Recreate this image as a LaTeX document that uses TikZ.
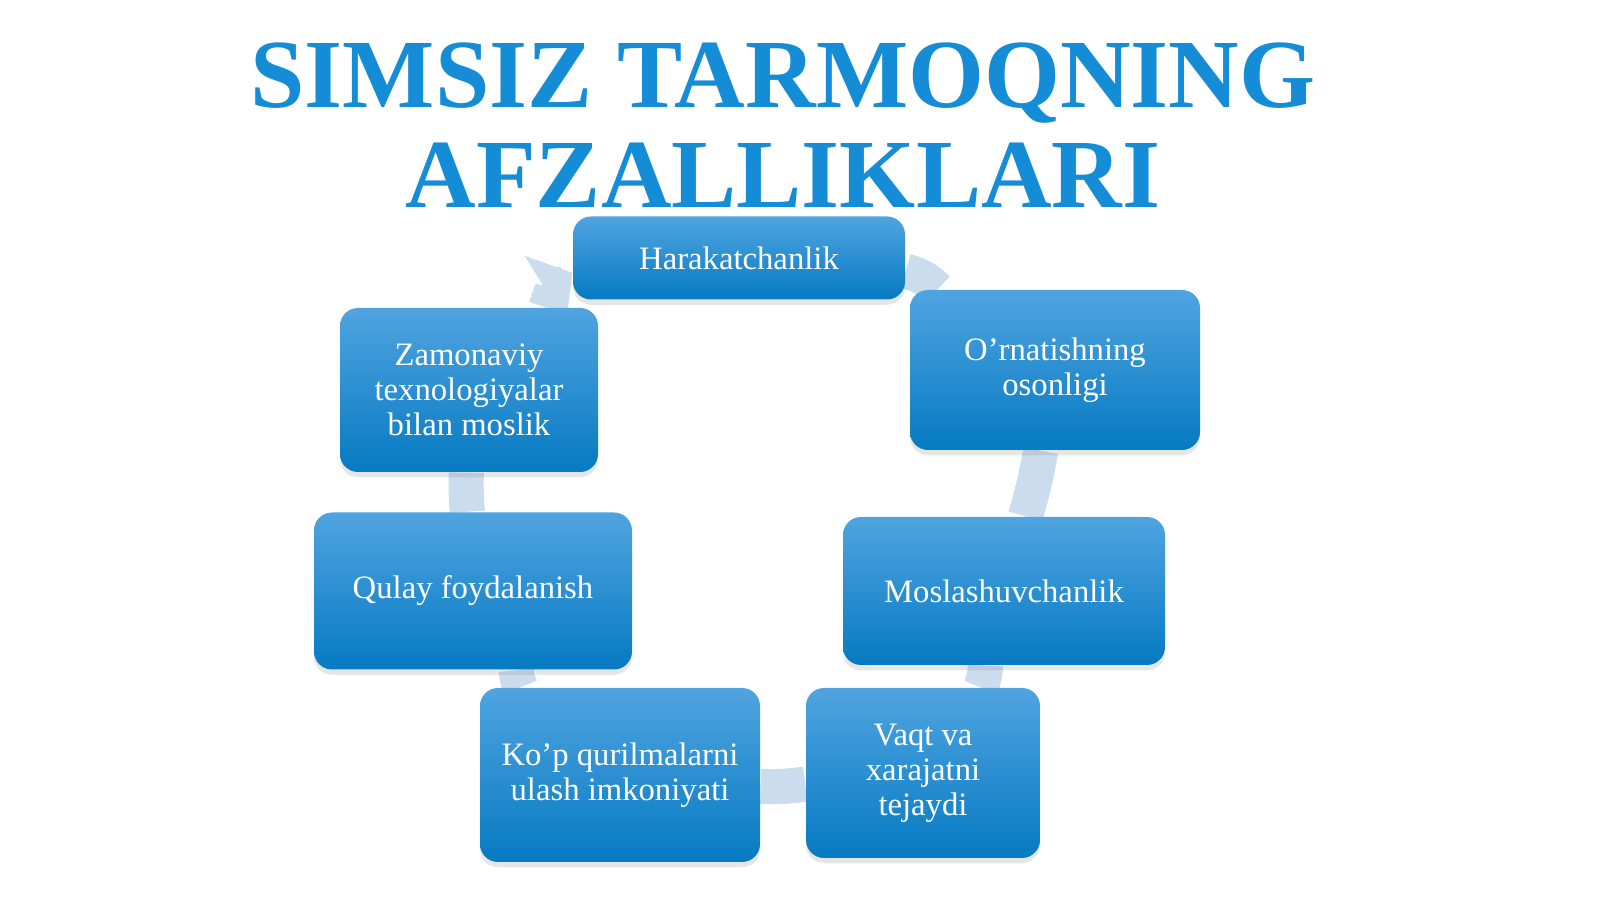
\documentclass[tikz,border=0pt]{standalone}
\usepackage{fontspec}
\setmainfont{Liberation Serif}
\usetikzlibrary{arrows.meta,shadows,backgrounds}

\definecolor{titleblue}{RGB}{20,140,214}
\definecolor{boxtop}{RGB}{80,164,224}
\definecolor{boxbot}{RGB}{6,122,194}
\definecolor{ringblue}{RGB}{204,220,239}

\begin{document}
\begin{tikzpicture}[>=Triangle,
  item/.style={rectangle,rounded corners=1.8mm,top color=boxtop,bottom color=boxbot,
    text=white,align=center,font=\fontsize{9.3}{10}\selectfont,
    drop shadow={shadow xshift=0pt,shadow yshift=-1.5pt,opacity=0.2}},
  heading/.style={anchor=base,text=titleblue,font=\fontsize{27.8}{29}\selectfont\bfseries},
  link/.style={draw=ringblue,line width=10pt}]
    \useasboundingbox (0,0) rectangle (16,8.99);

    \node[heading](title) at (7.83,7.91){SIMSIZ TARMOQNING};
    \node[heading](titlerest) at (7.83,6.91){AFZALLIKLARI};

    \node[item,minimum width=3.32cm,minimum height=0.83cm](H) at (7.39,6.41){Harakatchanlik};
    \node[item,minimum width=2.90cm,minimum height=1.60cm](O) at (10.55,5.29){O’rnatishning\\osonligi};
    \node[item,minimum width=3.22cm,minimum height=1.48cm](M) at (10.04,3.08){Moslashuvchanlik};
    \node[item,minimum width=2.34cm,minimum height=1.70cm](V) at (9.23,1.26){Vaqt va\\xarajatni\\tejaydi};
    \node[item,minimum width=2.80cm,minimum height=1.74cm](K) at (6.20,1.24){Ko’p qurilmalarni\\ulash imkoniyati};
    \node[item,minimum width=3.18cm,minimum height=1.57cm](Q) at (4.73,3.08){Qulay foydalanish};
    \node[item,minimum width=2.58cm,minimum height=1.64cm](Z) at (4.69,5.09){Zamonaviy\\texnologiyalar\\bilan moslik};

    \begin{scope}[on background layer]
    \path[link] (H) edge[bend left=15] (O)
                (O) edge[bend left=3] (M)
                (M) edge[bend left=10] (V)
                (V) edge[bend left=5] (K)
                (K) edge[bend left=10] (Q)
                (Q) edge[bend left=3] (Z);
    \draw[link,-{Triangle[width=22pt,length=9pt]}] (Z) to[bend left=21] (H);
    \end{scope}

\end{tikzpicture}
\end{document}
